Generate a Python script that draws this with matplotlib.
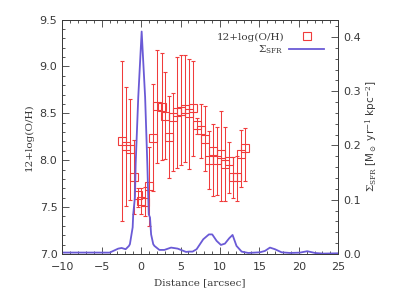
import numpy as np
import matplotlib
matplotlib.use('Agg')
import matplotlib.pyplot as plt
from matplotlib.lines import Line2D
from matplotlib.ticker import MultipleLocator

plt.rcParams['mathtext.fontset'] = 'dejavuserif'

# metallicity along the slit
dist = [-2.45, -1.96, -1.45, -0.95, -0.44, 0.02, 0.55, 1.05, 1.54, 2.05, 2.60,
        3.06, 3.57, 4.08, 4.58, 5.09, 5.60, 6.10, 6.57, 7.08, 7.59, 8.10, 8.60,
        9.11, 9.62, 10.12, 10.63, 11.14, 11.65, 12.15, 12.66, 13.17]
oh = [8.21, 8.15, 8.12, 7.82, 7.63, 7.57, 7.55, 7.72, 8.24, 8.58, 8.57,
      8.47, 8.25, 8.46, 8.51, 8.53, 8.55, 8.50, 8.56, 8.38, 8.32, 8.23, 8.00,
      8.10, 8.00, 8.07, 7.96, 7.99, 7.82, 7.82, 8.07, 8.13]
oh_hi = [9.06, 8.78, 8.65, 8.22, 7.70, 7.70, 7.71, 8.14, 8.81, 9.18, 9.14,
         8.94, 8.69, 8.72, 9.10, 9.12, 9.12, 9.08, 9.06, 8.45, 8.60, 8.58, 8.31,
         8.39, 8.35, 8.53, 8.35, 8.19, 8.03, 8.05, 8.32, 8.34]
oh_lo = [7.35, 7.51, 7.58, 7.43, 7.50, 7.43, 7.41, 7.30, 7.67, 7.97, 8.00,
         8.01, 7.81, 7.89, 7.92, 7.95, 7.98, 7.91, 8.04, 8.28, 8.02, 7.89, 7.69,
         7.62, 7.63, 7.57, 7.57, 7.65, 7.60, 7.57, 7.71, 7.78]

# SFR surface density profile
sfr_x = [-10.0, -8.0, -6.0, -4.0, -2.9, -2.47, -1.96, -1.54, -1.42, -1.07, -1.0,
         -0.78, -0.69, -0.36, 0.07, 0.51, 0.79, 0.97, 1.13, 1.27, 1.54, 1.69,
         2.32, 2.95, 3.8, 4.64, 5.7, 6.05, 6.53, 7.04, 7.88, 8.6, 9.02, 9.58,
         10.12, 10.63, 11.18, 11.6, 12.1, 12.75, 13.59, 15.07, 15.7, 16.34,
         16.97, 17.82, 18.87, 20.14, 21.07, 22.05, 23.1, 25.4]
sfr = [0.0025, 0.0025, 0.0025, 0.0024, 0.0098, 0.011, 0.0087, 0.0148, 0.018,
       0.049, 0.073, 0.105, 0.166, 0.289, 0.41, 0.289, 0.166, 0.073, 0.067,
       0.036, 0.018, 0.0148, 0.0074, 0.0074, 0.0117, 0.0098, 0.0037, 0.0043,
       0.0043, 0.0087, 0.027, 0.036, 0.036, 0.024, 0.0166, 0.019, 0.029,
       0.035, 0.0148, 0.0043, 0.0018, 0.003, 0.0055, 0.0117, 0.0087, 0.003,
       0.0018, 0.0024, 0.005, 0.0018, 0.0006, 0.0013]

red = '#f03c3c'
blue = '#6a5ad6'
ink = '#3a3a3a'

fig = plt.figure(figsize=(4.15, 2.97), dpi=100)
ax = fig.add_axes([0.150, 0.145, 0.665, 0.789])
ax2 = ax.twinx()

oh = np.array(oh)
yerr = [oh - np.array(oh_lo), np.array(oh_hi) - oh]
ax.errorbar(dist, oh, yerr=yerr, fmt='s', mfc='none', mec=red, ms=5.8,
            mew=0.8, ecolor=red, elinewidth=0.75, capsize=1.2, capthick=0.75)
ax2.plot(sfr_x, sfr, color=blue, lw=1.3)

ax.set_xlim(-10, 25)
ax.set_ylim(7.0, 9.5)
ax2.set_ylim(0, 0.432)

ax.xaxis.set_major_locator(MultipleLocator(5))
ax.xaxis.set_minor_locator(MultipleLocator(1))
ax.yaxis.set_major_locator(MultipleLocator(0.5))
ax.yaxis.set_minor_locator(MultipleLocator(0.1))
ax2.yaxis.set_major_locator(MultipleLocator(0.1))
ax2.yaxis.set_minor_locator(MultipleLocator(0.02))
ax.yaxis.set_major_formatter(plt.FormatStrFormatter('%.1f'))
ax2.yaxis.set_major_formatter(plt.FormatStrFormatter('%.1f'))

ax.tick_params(which='both', direction='in', top=True, right=False,
               labelsize=8, colors=ink, labelcolor=ink)
ax.tick_params(axis='x', which='major', pad=6)
ax.tick_params(which='major', length=5, width=0.6)
ax.tick_params(which='minor', length=2.5, width=0.6)
ax2.tick_params(which='both', direction='in', labelsize=8, colors=ink,
                labelcolor=ink)
ax2.tick_params(which='major', length=5, width=0.6)
ax2.tick_params(which='minor', length=2.5, width=0.6)
for a in (ax, ax2):
    for s in a.spines.values():
        s.set_color(ink)
        s.set_linewidth(0.7)

ax.set_xlabel('Distance [arcsec]', family='DejaVu Serif', fontsize=7.5,
              color=ink, labelpad=4)
ax.set_ylabel('12+log(O/H)', family='DejaVu Serif', fontsize=7.5,
              color=ink, labelpad=4)
ax2.set_ylabel(r'$\Sigma_{\rm SFR}$ [M$_\odot$ yr$^{-1}$ kpc$^{-2}$]',
               fontsize=7.5, color=ink, labelpad=2, rotation=90)

h1 = Line2D([], [], ls='none', marker='s', mfc='none', mec=red, ms=5.8, mew=0.8)
h2 = Line2D([], [], color=blue, lw=1.3)
leg1 = ax2.legend([h1], ['12+log(O/H)'], loc='upper right', frameon=False,
                  markerfirst=False, handlelength=3.2, handletextpad=0.6,
                  bbox_to_anchor=(0.975, 0.975),
                  prop={'family': 'DejaVu Serif', 'size': 7.5}, borderpad=0.2)
for t in leg1.get_texts():
    t.set_color(ink)
ax2.add_artist(leg1)
leg2 = ax2.legend([h2], [r'$\Sigma_{\rm SFR}$'], loc='upper right', frameon=False,
                  markerfirst=False, handlelength=3.4, handletextpad=0.5,
                  bbox_to_anchor=(0.975, 0.93), prop={'size': 7.5},
                  borderpad=0.2)
for t in leg2.get_texts():
    t.set_color(ink)

fig.savefig('out.png', dpi=100)
